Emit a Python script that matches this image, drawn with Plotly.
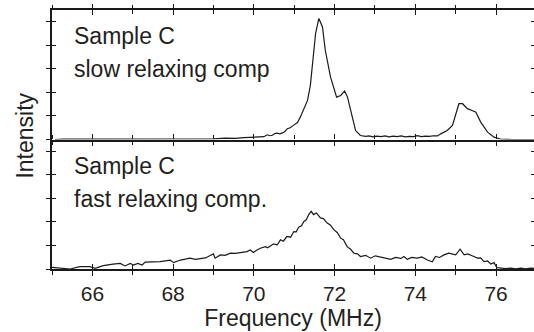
import plotly.graph_objects as go

# ---- data ----
freq_slow = [65.07, 65.27, 65.8, 66.19, 66.8, 67.43, 68.1, 68.6, 69.0, 69.3, 69.54, 69.75, 69.99, 70.16,
             70.25, 70.33, 70.4, 70.46, 70.52, 70.58, 70.64, 70.71, 70.77, 70.83, 70.9, 70.98, 71.08,
             71.15, 71.25, 71.33, 71.4, 71.45, 71.53, 71.61, 71.7, 71.77, 71.9, 72.05, 72.15, 72.25,
             72.32, 72.44, 72.52, 72.64, 72.77, 72.85, 72.95, 73.05, 73.15, 73.25, 73.35, 73.45, 73.55,
             73.65, 73.75, 73.85, 73.95, 74.05, 74.15, 74.25, 74.35, 74.45, 74.55, 74.63, 74.71, 74.79,
             74.92, 75.0, 75.08, 75.17, 75.29, 75.42, 75.5, 75.62, 75.79, 75.95, 76.12, 76.4, 76.96]
int_slow = [0.0, 0.02, 0.02, 0.02, 0.03, 0.03, 0.03, 0.04, 0.03, 0.06, 0.05, 0.08, 0.1, 0.13,
            0.12, 0.2, 0.16, 0.18, 0.25, 0.27, 0.24, 0.28, 0.34, 0.46, 0.5, 0.6, 0.72,
            0.95, 1.32, 1.66, 2.3, 3.08, 4.51, 5.14, 4.78, 3.79, 2.65, 1.8, 1.87, 2.06,
            1.8, 0.95, 0.38, 0.17, 0.13, 0.15, 0.11, 0.14, 0.12, 0.15, 0.11, 0.14, 0.12,
            0.15, 0.11, 0.13, 0.12, 0.16, 0.12, 0.14, 0.13, 0.16, 0.15, 0.24, 0.3, 0.38,
            0.6, 1.11, 1.52, 1.52, 1.31, 1.22, 1.16, 0.74, 0.31, 0.1, 0.01, 0.0, 0.0]

freq_fast = [64.99, 65.2, 65.45, 65.69, 65.94, 66.07, 66.27, 66.51, 66.69, 66.81, 66.94, 67.01, 67.13,
             67.23, 67.31, 67.48, 67.68, 67.93, 68.01, 68.18, 68.3, 68.42, 68.55, 68.67, 68.8, 68.92,
             69.0, 69.04, 69.17, 69.29, 69.42, 69.54, 69.67, 69.83, 69.91, 69.99, 70.06, 70.16, 70.29,
             70.34, 70.41, 70.49, 70.58, 70.66, 70.73, 70.82, 70.91, 70.99, 71.05, 71.11, 71.18, 71.24,
             71.3, 71.36, 71.42, 71.48, 71.55, 71.6, 71.65, 71.72, 71.82, 71.9, 71.98, 72.07, 72.15,
             72.22, 72.31, 72.39, 72.48, 72.57, 72.64, 72.77, 72.89, 73.01, 73.14, 73.26, 73.39, 73.51,
             73.64, 73.72, 73.8, 73.91, 74.05, 74.16, 74.3, 74.42, 74.5, 74.6, 74.71, 74.83, 74.93,
             75.0, 75.11, 75.21, 75.3, 75.37, 75.45, 75.54, 75.62, 75.7, 75.79, 75.87, 75.95, 76.02,
             76.12, 76.24, 76.36, 76.49, 76.61, 76.74, 76.86, 76.96]
int_fast = [0.07, 0.04, 0.0, 0.1, 0.1, 0.03, 0.14, 0.21, 0.24, 0.13, 0.24, 0.17, 0.24,
            0.17, 0.29, 0.3, 0.31, 0.38, 0.27, 0.38, 0.41, 0.46, 0.41, 0.43, 0.47, 0.57,
            0.64, 0.46, 0.6, 0.58, 0.67, 0.66, 0.7, 0.74, 0.81, 0.7, 0.79, 0.88, 0.95,
            0.9, 0.98, 1.07, 1.03, 1.24, 1.18, 1.38, 1.35, 1.59, 1.58, 1.78, 1.84, 2.02,
            2.09, 2.31, 2.45, 2.31, 2.38, 2.26, 2.17, 2.14, 1.95, 1.86, 1.67, 1.54, 1.31,
            1.24, 0.95, 0.85, 0.67, 0.64, 0.53, 0.58, 0.46, 0.56, 0.5, 0.45, 0.41, 0.49,
            0.45, 0.53, 0.41, 0.49, 0.46, 0.51, 0.38, 0.31, 0.53, 0.49, 0.6, 0.67, 0.62,
            0.6, 0.84, 0.6, 0.64, 0.6, 0.53, 0.46, 0.47, 0.31, 0.34, 0.21, 0.27, 0.06,
            0.03, 0.02, 0.04, 0.01, 0.04, 0.01, 0.04, 0.02]

x_range = [65, 76.94]
y_range = [0, 5.5]
label_top = ["Sample C", "slow relaxing comp"]
label_bottom = ["Sample C", "fast relaxing comp."]

INK = "#231f20"
LINE = "#1a1a1a"
FONT = "Liberation Sans, Arial, sans-serif"

fig = go.Figure()
fig.add_trace(go.Scatter(x=freq_fast, y=int_fast, mode="lines", xaxis="x", yaxis="y",
                         line=dict(color=LINE, width=1.2), showlegend=False))
fig.add_trace(go.Scatter(x=freq_slow, y=int_slow, mode="lines", xaxis="x2", yaxis="y2",
                         line=dict(color=LINE, width=1.2), showlegend=False))
# empty traces so that overlay axes get drawn
for xa, ya in [("x3", "y"), ("x5", "y"), ("x4", "y2"), ("x6", "y2"),
               ("x", "y3"), ("x2", "y4"), ("x", "y5"), ("x2", "y6")]:
    fig.add_trace(go.Scatter(x=[], y=[], xaxis=xa, yaxis=ya, showlegend=False))

tick_common = dict(tickcolor=LINE, tickwidth=1.3, showgrid=False, zeroline=False)


def xax(direction, **kw):
    d = dict(range=x_range, tick0=66, dtick=2, ticklen=5, ticks=direction, mirror=False,
             minor=dict(tick0=65, dtick=1, ticklen=4, tickcolor=LINE, tickwidth=1.3, ticks=direction),
             **tick_common)
    d.update(kw)
    return d


def yax(direction, ln, **kw):
    d = dict(range=y_range, dtick=1, tick0=0, ticks=direction, ticklen=ln, showticklabels=False,
             **tick_common)
    d.update(kw)
    return d


fig.update_layout(
    width=534, height=332,
    margin=dict(l=52, r=0, t=10, b=63),
    paper_bgcolor="white", plot_bgcolor="white",
    font=dict(family=FONT, color=INK),
    # bottom panel
    xaxis=xax("outside", domain=[0, 1], anchor="y", showline=True, linecolor=LINE, linewidth=1.5,
              showticklabels=True, tickfont=dict(size=21, color=INK),
              title=dict(text="Frequency (MHz)", font=dict(size=23, color=INK), standoff=2)),
    xaxis3=xax("inside", overlaying="x", anchor="y", side="bottom", showline=False, showticklabels=False),
    xaxis5=xax("outside", overlaying="x", anchor="y", side="top", showline=False, showticklabels=False),
    # top panel
    xaxis2=xax("outside", domain=[0, 1], anchor="y2", matches="x", showline=True, linecolor=LINE,
               linewidth=1.5, showticklabels=False),
    xaxis4=xax("inside", overlaying="x2", anchor="y2", side="top", showline=True, linecolor=LINE,
               linewidth=1.5, showticklabels=False),
    xaxis6=xax("outside", overlaying="x2", anchor="y2", side="top", showline=False, showticklabels=False),
    yaxis=yax("outside", 4, domain=[0, 0.5], anchor="x", showline=True, linecolor=LINE, linewidth=1.5),
    yaxis2=yax("outside", 4, domain=[0.5, 1], anchor="x2", showline=True, linecolor=LINE, linewidth=1.5),
    yaxis3=yax("inside", 4, overlaying="y", anchor="x", side="left", showline=False),
    yaxis4=yax("inside", 4, overlaying="y2", anchor="x2", side="left", showline=False),
    yaxis5=yax("inside", 3, overlaying="y", anchor="x", side="right", showline=False),
    yaxis6=yax("inside", 3, overlaying="y2", anchor="x2", side="right", showline=False),
)

ann = []


def add_text(txt, y):
    ann.append(dict(text=txt, xref="paper", yref="paper", x=0.042, y=y, xanchor="left",
                    yanchor="middle", showarrow=False, font=dict(size=23, color=INK, family=FONT)))


add_text(label_top[0], 0.9)
add_text(label_top[1], 0.772)
add_text(label_bottom[0], 0.398)
add_text(label_bottom[1], 0.272)
ann.append(dict(text="Intensity", xref="paper", yref="paper", x=0, y=0.515, xanchor="center",
                yanchor="middle", xshift=-27, textangle=-90, showarrow=False,
                font=dict(size=23, color=INK, family=FONT)))
fig.update_layout(annotations=ann)

fig.write_html("out.html")
